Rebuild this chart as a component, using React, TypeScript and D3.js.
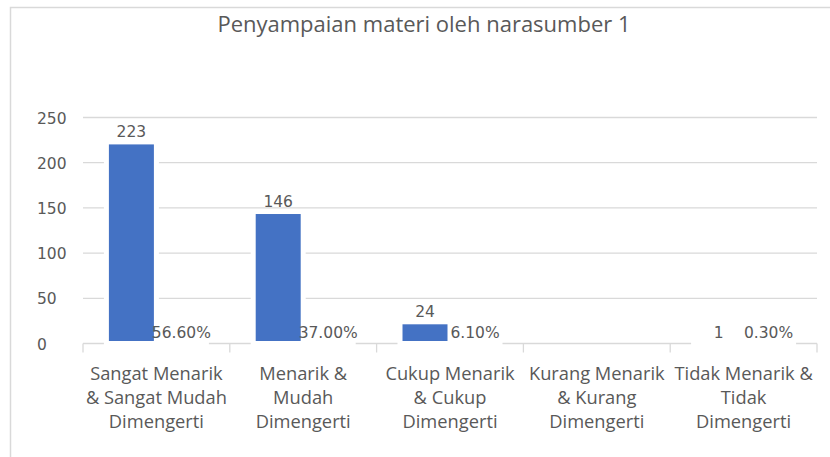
import React from "react";
import * as d3 from "d3";

const title = "Penyampaian materi oleh narasumber 1";
const categories = [
  ["Sangat Menarik", "& Sangat Mudah", "Dimengerti"],
  ["Menarik &", "Mudah", "Dimengerti"],
  ["Cukup Menarik", "& Cukup", "Dimengerti"],
  ["Kurang Menarik", "& Kurang", "Dimengerti"],
  ["Tidak Menarik &", "Tidak", "Dimengerti"],
];
const counts = [223, 146, 24, 0, 1];
const percents = [0.566, 0.37, 0.061, 0, 0.003];
const yTicks = [0, 50, 100, 150, 200, 250];
const series = ["count", "percent"];

const W = 830;
const H = 457;
const plotLeft = 83;
const plotRight = 817;
const plotTop = 117.5;
const plotBottom = 343.5;
const BLUE = "#4472C4";
const GRID = "#d9d9d9";
const TEXT = "#595959";
const LABEL_FONT = "'DejaVu Sans', sans-serif";
const CAT_FONT = "'Open Sans', sans-serif";

export default function App() {
  const idx = categories.map((_, i) => String(i));
  const x = d3.scaleBand<string>().domain(idx).range([plotLeft, plotRight]).paddingInner(0).paddingOuter(0);
  const xs = d3.scaleBand<string>().domain(series).range([0, x.bandwidth()]).paddingInner(0).paddingOuter(0.468);
  const y = d3.scaleLinear().domain([0, 250]).range([plotBottom, plotTop]);

  const bars: { key: string; i: number; s: string; v: number; label: string | null }[] = [];
  categories.forEach((_, i) => {
    bars.push({ key: `c${i}`, i, s: "count", v: counts[i], label: counts[i] > 0 ? String(counts[i]) : null });
    bars.push({
      key: `p${i}`,
      i,
      s: "percent",
      v: percents[i],
      label: percents[i] > 0 ? (percents[i] * 100).toFixed(2) + "%" : null,
    });
  });

  const boundaries = d3.range(categories.length + 1).map((k) =>
    k < categories.length ? (x(String(k)) as number) : plotRight
  );

  return (
    <svg width={W} height={H} style={{ position: "absolute", left: 0, top: 0, background: "#fff" }}>
      <rect x={0} y={0} width={W} height={H} fill="#fff" />
      <rect x={10.5} y={7.5} width={W + 20} height={H + 20} fill="none" stroke={GRID} strokeWidth={1.5} />
      <text x={424} y={32} textAnchor="middle" fontFamily={CAT_FONT} fontSize={22} fill={TEXT}>
        {title}
      </text>
      {yTicks.map((t) => (
        <g key={t}>
          {t > 0 && <line x1={plotLeft} x2={plotRight} y1={y(t)} y2={y(t)} stroke={GRID} strokeWidth={1.3} />}
          <text x={37} y={y(t) + 1.5} dominantBaseline="middle" fontFamily={LABEL_FONT} fontSize={15.5} fill={TEXT}>
            {t}
          </text>
        </g>
      ))}
      <line x1={plotLeft} x2={plotRight} y1={plotBottom} y2={plotBottom} stroke={GRID} strokeWidth={1.3} />
      {boundaries.map((bx, k) => (
        <line key={k} x1={bx} x2={bx} y1={plotBottom} y2={plotBottom + 9} stroke={GRID} strokeWidth={1.3} />
      ))}
      {bars.map((b) => {
        const bx = (x(String(b.i)) as number) + (xs(b.s) as number);
        const top = y(b.v);
        return (
          <rect
            key={b.key}
            x={bx}
            y={top}
            width={xs.bandwidth()}
            height={Math.max(0, plotBottom - top)}
            fill={BLUE}
            stroke="#fff"
            strokeWidth={5}
          />
        );
      })}
      {bars.map((b) =>
        b.label ? (
          <text
            key={"l" + b.key}
            x={(x(String(b.i)) as number) + (xs(b.s) as number) + xs.bandwidth() / 2}
            y={y(b.v) - 5}
            textAnchor="middle"
            fontFamily={LABEL_FONT}
            fontSize={15.5}
            fill={TEXT}
          >
            {b.label}
          </text>
        ) : null
      )}
      {categories.map((lines, i) => (
        <text key={"cat" + i} textAnchor="middle" fontFamily={CAT_FONT} fontSize={18.3} fill={TEXT}>
          {lines.map((ln, j) => (
            <tspan key={j} x={(x(String(i)) as number) + x.bandwidth() / 2} y={380 + j * 24}>
              {ln}
            </tspan>
          ))}
        </text>
      ))}
    </svg>
  );
}
